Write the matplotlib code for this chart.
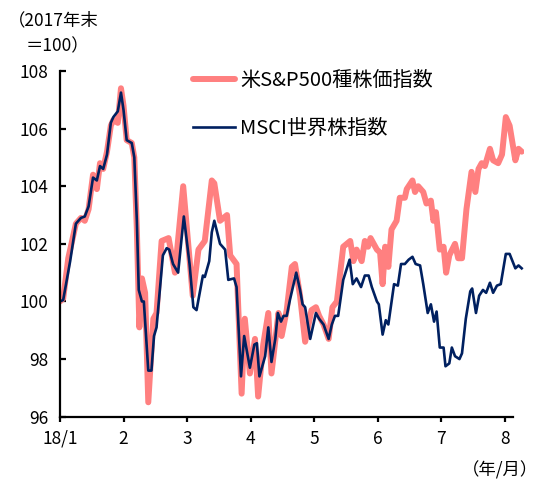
import matplotlib
matplotlib.use('Agg')
import matplotlib.pyplot as plt

plt.rcParams['font.family'] = ['Noto Sans CJK JP', 'DejaVu Sans']

# x positions in months since 2018/1 start (0 = 18/1, 1 = 2, ...)
sp_month = [0.00, 0.05, 0.13, 0.25, 0.33, 0.39, 0.45, 0.52, 0.58, 0.63, 0.68, 0.74,
            0.80, 0.84, 0.91, 0.96, 1.00, 1.05, 1.13, 1.17, 1.21, 1.25, 1.29, 1.34,
            1.39, 1.47, 1.52, 1.60, 1.71, 1.81, 1.94, 2.09, 2.18, 2.28, 2.39, 2.43,
            2.52, 2.63, 2.68, 2.78, 2.86, 2.91, 2.99, 3.07, 3.12, 3.20, 3.28, 3.33,
            3.44, 3.49, 3.57, 3.65, 3.70, 3.78, 3.86, 3.96, 4.03, 4.08, 4.15, 4.23,
            4.29, 4.36, 4.46, 4.57, 4.62, 4.67, 4.75, 4.80, 4.85, 4.89, 4.99, 5.04,
            5.08, 5.12, 5.17, 5.22, 5.30, 5.35, 5.43, 5.46, 5.55, 5.59, 5.64, 5.72,
            5.77, 5.84, 5.88, 5.92, 5.98, 6.04, 6.08, 6.13, 6.22, 6.27, 6.33, 6.40,
            6.48, 6.54, 6.59, 6.64, 6.69, 6.77, 6.82, 6.90, 6.96, 7.02, 7.08, 7.17,
            7.22, 7.27]
sp_value = [100.0, 100.1, 101.5, 102.7, 102.9, 102.8, 103.2, 104.4, 103.9, 104.8, 104.6, 105.2,
            106.1, 106.3, 106.2, 107.4, 106.8, 105.6, 105.5, 105.0, 102.5, 99.1, 100.8, 100.3,
            96.5, 99.4, 99.6, 102.1, 102.2, 101.0, 104.0, 100.2, 101.8, 102.1, 104.2, 104.1,
            102.8, 103.0, 101.6, 101.3, 96.8, 99.4, 97.5, 98.7, 96.7, 98.5, 99.6, 97.5,
            99.6, 98.8, 99.7, 101.2, 101.3, 100.2, 98.6, 99.7, 99.8, 99.5, 99.2, 98.7,
            99.8, 100.0, 101.9, 102.1, 101.4, 101.8, 101.4, 102.1, 101.9, 102.2, 101.8, 101.7,
            100.6, 101.9, 101.2, 102.5, 102.8, 103.6, 103.6, 103.9, 104.2, 103.8, 104.0, 103.8,
            103.4, 103.5, 102.8, 103.1, 101.8, 101.9, 101.0, 101.6, 102.0, 101.5, 101.5, 103.2,
            104.5, 103.8, 104.6, 104.8, 104.7, 105.3, 104.9, 104.8, 105.1, 106.4, 106.1, 104.9,
            105.3, 105.2]

msci_month = [0.00, 0.05, 0.16, 0.25, 0.33, 0.39, 0.45, 0.52, 0.58, 0.63, 0.68, 0.74,
              0.80, 0.84, 0.91, 0.96, 1.00, 1.05, 1.13, 1.17, 1.21, 1.24, 1.29, 1.32,
              1.39, 1.44, 1.48, 1.52, 1.62, 1.68, 1.72, 1.78, 1.86, 1.95, 2.04, 2.10,
              2.15, 2.25, 2.28, 2.35, 2.39, 2.43, 2.52, 2.60, 2.65, 2.74, 2.78, 2.85,
              2.90, 2.99, 3.06, 3.10, 3.14, 3.23, 3.28, 3.33, 3.39, 3.43, 3.48, 3.52,
              3.57, 3.62, 3.72, 3.78, 3.82, 3.86, 3.94, 3.99, 4.03, 4.08, 4.15, 4.23,
              4.28, 4.33, 4.38, 4.46, 4.56, 4.61, 4.67, 4.74, 4.80, 4.86, 4.91, 4.99,
              5.02, 5.08, 5.13, 5.17, 5.26, 5.32, 5.37, 5.43, 5.49, 5.55, 5.60, 5.67,
              5.72, 5.79, 5.84, 5.89, 5.93, 5.98, 6.04, 6.07, 6.13, 6.17, 6.22, 6.29,
              6.33, 6.39, 6.46, 6.49, 6.55, 6.60, 6.66, 6.71, 6.77, 6.82, 6.88, 6.94,
              7.02, 7.08, 7.17, 7.22, 7.27]
msci_value = [100.0, 100.05, 101.4, 102.7, 102.9, 102.95, 103.3, 104.3, 104.2, 104.7, 104.6, 105.1,
              106.2, 106.4, 106.6, 107.25, 106.65, 105.6, 105.5, 105.0, 102.8, 100.4, 100.0, 100.0,
              97.6, 97.6, 98.8, 99.1, 101.6, 101.85, 101.8, 101.3, 101.0, 102.95, 101.3, 99.8,
              99.7, 100.9, 100.85, 101.4, 102.4, 102.8, 102.0, 101.8, 100.75, 100.8, 100.5, 97.4,
              98.8, 97.7, 98.5, 98.55, 97.4, 98.1, 99.1, 97.9, 98.7, 99.6, 99.3, 99.5,
              99.5, 100.05, 101.0, 100.4, 99.9, 99.8, 98.7, 99.2, 99.6, 99.4, 99.2, 98.7,
              99.2, 99.5, 99.5, 100.75, 101.45, 100.6, 100.8, 100.5, 100.9, 100.9, 100.5, 100.0,
              99.9, 98.85, 99.35, 99.2, 100.6, 100.55, 101.3, 101.3, 101.45, 101.55, 101.3, 101.25,
              100.6, 99.6, 99.9, 99.3, 99.65, 98.4, 98.4, 97.75, 97.85, 98.4, 98.1, 98.0,
              98.2, 99.4, 100.35, 100.45, 99.6, 100.2, 100.4, 100.3, 100.65, 100.3, 100.55, 100.6,
              101.65, 101.65, 101.15, 101.25, 101.15]

tick_pos = [0, 1, 2, 3, 4, 5, 6, 7]
tick_labels = ['18/1', '2', '3', '4', '5', '6', '7', '8']
y_ticks = [96, 98, 100, 102, 104, 106, 108]

SP_COLOR = '#ff8080'
MSCI_COLOR = '#002060'

fig = plt.figure(figsize=(5.44, 4.82), dpi=100)
ax = fig.add_axes((0.1103, 0.1355, 0.8522, 0.7172))

ax.plot(sp_month, sp_value, color=SP_COLOR, lw=4.3, solid_joinstyle='round',
        solid_capstyle='round', label='米S&P500種株価指数')
ax.plot(msci_month, msci_value, color=MSCI_COLOR, lw=1.9, solid_joinstyle='round',
        label='MSCI世界株指数')

ax.set_xlim(0, 7.3)
ax.set_ylim(96, 108)
ax.set_xticks(tick_pos)
ax.set_xticklabels(tick_labels)
ax.set_yticks(y_ticks)

for side in ('top', 'right'):
    ax.spines[side].set_visible(False)
for side in ('left', 'bottom'):
    ax.spines[side].set_linewidth(1.6)
ax.spines['bottom'].set_bounds(0, 7.13)

ax.tick_params(axis='y', direction='in', length=4, width=1.6, pad=8.5, labelsize=12.5)
ax.tick_params(axis='x', direction='out', length=3.5, width=1.6, pad=6, labelsize=12.5)

ax.legend(loc='upper left', bbox_to_anchor=(0.287, 1.004), frameon=False,
          fontsize=14.5, handlelength=2.1, handletextpad=0.25, labelspacing=1.36,
          borderpad=0.0, borderaxespad=0.0)

fig.text(8 / 544, 1 - 20 / 482, '（2017年末', fontsize=12.5, va='center', ha='left')
fig.text(26 / 544, 1 - 46 / 482, '＝100）', fontsize=12.5, va='center', ha='left')
fig.text(538 / 544, 1 - 470 / 482, '（年/月）', fontsize=12.5, va='center', ha='right')

fig.savefig('out.png', dpi=100)
